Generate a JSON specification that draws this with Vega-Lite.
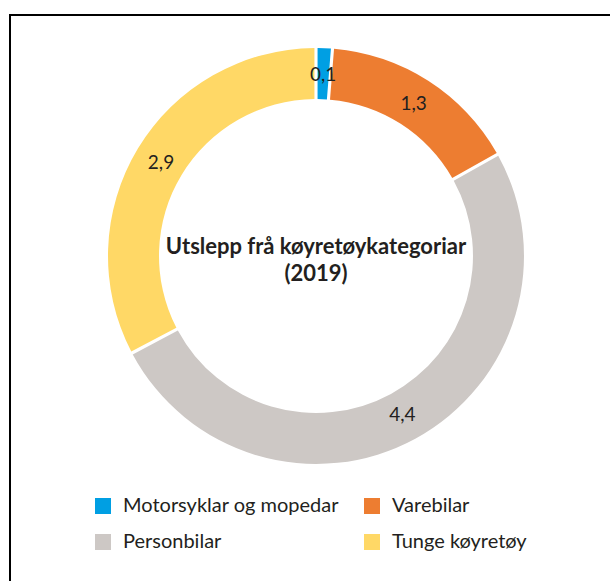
{
  "$schema": "https://vega.github.io/schema/vega-lite/v6.json",
  "width": 610,
  "height": 590,
  "autosize": {"type": "none"},
  "padding": {"left": 10, "top": 15, "right": 0, "bottom": 0},
  "background": "white",
  "view": {"stroke": "black", "strokeWidth": 2},
  "config": {
    "view": {"stroke": "black", "strokeWidth": 2},
    "font": "Lato",
    "text": {"color": "#231f20"}
  },
  "data": {
    "values": [
      {"kategori": "Motorsyklar og mopedar", "utslepp": 0.11, "label": "0,1", "rekkjefolgje": 1},
      {"kategori": "Varebilar", "utslepp": 1.36, "label": "1,3", "rekkjefolgje": 2},
      {"kategori": "Personbilar", "utslepp": 4.39, "label": "4,4", "rekkjefolgje": 3},
      {"kategori": "Tunge køyretøy", "utslepp": 2.85, "label": "2,9", "rekkjefolgje": 4}
    ]
  },
  "layer": [
    {
      "mark": {"type": "arc", "x": 306, "y": 241, "innerRadius": 157, "outerRadius": 208, "padAngle": 0.012},
      "encoding": {
        "theta": {"field": "utslepp", "type": "quantitative", "stack": true},
        "order": {"field": "rekkjefolgje", "type": "quantitative"},
        "color": {
          "field": "kategori",
          "type": "nominal",
          "sort": ["Motorsyklar og mopedar", "Varebilar", "Personbilar", "Tunge køyretøy"],
          "scale": {
            "domain": ["Motorsyklar og mopedar", "Varebilar", "Personbilar", "Tunge køyretøy"],
            "range": ["#009fe3", "#ed7d31", "#cdc8c5", "#ffd866"]
          },
          "legend": {
            "title": null,
            "orient": "none",
            "legendX": 83,
            "legendY": 481,
            "direction": "horizontal",
            "columns": 2,
            "columnPadding": 23,
            "rowPadding": 16,
            "padding": 0,
            "symbolType": "square",
            "symbolSize": 256,
            "symbolStrokeWidth": 0,
            "symbolOpacity": 1,
            "labelFontSize": 20,
            "labelFont": "Lato",
            "labelColor": "#231f20",
            "labelOffset": 10,
            "labelLimit": 400
          }
        }
      }
    },
    {
      "mark": {"type": "text", "x": 306, "y": 241, "radius": 181, "fontSize": 19},
      "encoding": {
        "theta": {"field": "utslepp", "type": "quantitative", "stack": true},
        "order": {"field": "rekkjefolgje", "type": "quantitative"},
        "text": {"field": "label", "type": "nominal"}
      }
    },
    {
      "data": {"values": [{"tittel": "Utslepp frå køyretøykategoriar\n(2019)"}]},
      "mark": {"type": "text", "x": 306, "y": 232, "fontSize": 22, "fontWeight": "bold", "lineHeight": 27, "lineBreak": "\n", "align": "center"},
      "encoding": {"text": {"field": "tittel", "type": "nominal"}}
    }
  ]
}
